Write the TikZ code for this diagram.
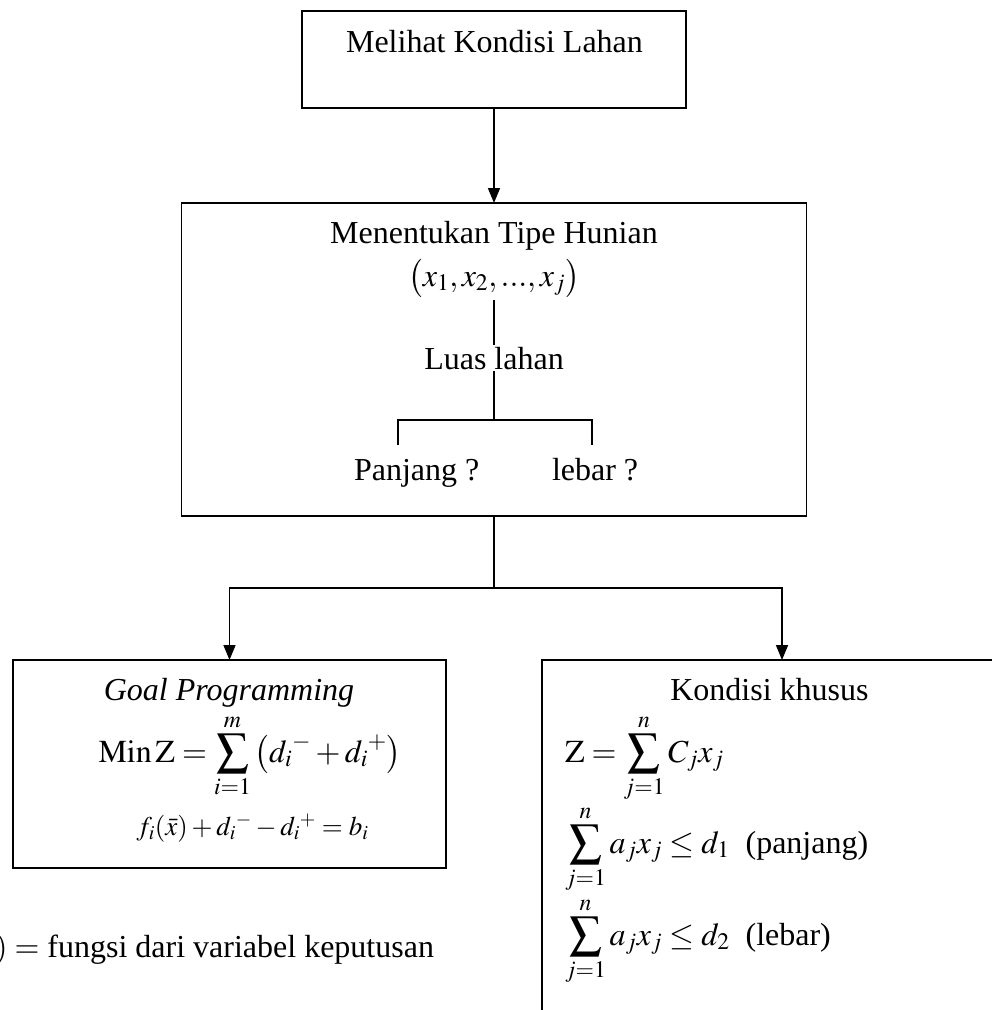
\documentclass[tikz,border=0pt]{standalone}
\usepackage{mathptmx}
\usepackage[no-math]{fontspec}
\setmainfont{Liberation Serif}
\usetikzlibrary{arrows.meta}
\tikzset{
  boxframe/.style={draw, line width=1.6pt, inner sep=0pt, outer sep=0pt},
  lbl/.style={font=\fontsize{32}{38}\selectfont, inner sep=0pt, outer sep=0pt},
  smalllbl/.style={font=\fontsize{27}{32}\selectfont, inner sep=0pt, outer sep=0pt},
  conn/.style={line width=1.6pt},
  arr/.style={conn, -{Triangle[length=15pt,width=12pt]}}
}
\begin{document}
\begin{tikzpicture}[x=1pt,y=-1pt]
\useasboundingbox (0,0) rectangle (992,1010);
\fill[white] (0,0) rectangle (992,1010);

% top box
\node[boxframe, minimum width=384pt, minimum height=97pt] (top) at (494,59.5) {};
\node[lbl, anchor=base] (toptxt) at (494.5,52) {Melihat Kondisi Lahan};

% middle box
\node[boxframe, minimum width=625pt, minimum height=313pt] (mid) at (494,359.5) {};
\node[lbl, anchor=base] (midtxt) at (494,243) {Menentukan Tipe Hunian};
\node[lbl, anchor=base] (tuple) at (494,286) {$\bigl(x_1, x_2 ,..., x_j\bigr)$};
\coordinate (tupbot) at (494,300);
\coordinate (brmid) at (494,420);
\draw[conn] (tupbot) -- (brmid);
\node[lbl, anchor=base, fill=white, inner sep=2pt] (luas) at (494,369) {Luas lahan};
\coordinate (bl) at (398,445);
\coordinate (br) at (592,445);
\draw[conn] (bl) |- (brmid) -| (br);
\node[lbl, anchor=base west] (pj) at (354,480) {Panjang ?};
\node[lbl, anchor=base west] (lb) at (552,480) {lebar ?};

% connectors
\draw[arr] (top.south) -- (top.south |- mid.north);
\coordinate (split) at (494,588);
\draw[conn] (mid.south) -- (split);

% goal programming box
\node[boxframe, minimum width=433pt, minimum height=208pt] (goal) at (229.5,764) {};
\node[lbl, anchor=base] (gptxt) at (229,700) {\itshape Goal Programming};
\node[lbl, anchor=base] (minz) at (250,762) {$\mathrm{Min}\,\mathrm{Z} = \displaystyle\sum_{i=1}^{m}\left(\vphantom{\displaystyle\sum}d_i{}^{-} + d_i{}^{+}\right)$};
\node[smalllbl, anchor=base] (fx) at (252.5,835) {$f_i(\bar{x}) + d_i{}^{-} - d_i{}^{+} = b_i$};

% kondisi khusus box (runs off the page)
\node[boxframe, minimum width=480pt, minimum height=380pt] (khusus) at (782,850) {};
\node[lbl, anchor=base] (kh) at (769.5,700) {Kondisi khusus};
\node[lbl, anchor=base west] (zobj) at (565,762) {$\mathrm{Z} = \displaystyle\sum_{j=1}^{n} C_j x_j$};
\node[lbl, anchor=base west] (c1) at (565,853) {$\displaystyle\sum_{j=1}^{n} a_j x_j \le d_1$\ \ (panjang)};
\node[lbl, anchor=base west] (c2) at (565,945) {$\displaystyle\sum_{j=1}^{n} a_j x_j \le d_2$\ \ (lebar)};

\draw[arr] (split) -| (goal.north);
\draw[arr] (split) -| (khusus.north);

% note below
\node[lbl, anchor=base east] (fdef) at (434,957) {$f_i(\bar{x}) =$ fungsi dari variabel keputusan};
\end{tikzpicture}
\end{document}
